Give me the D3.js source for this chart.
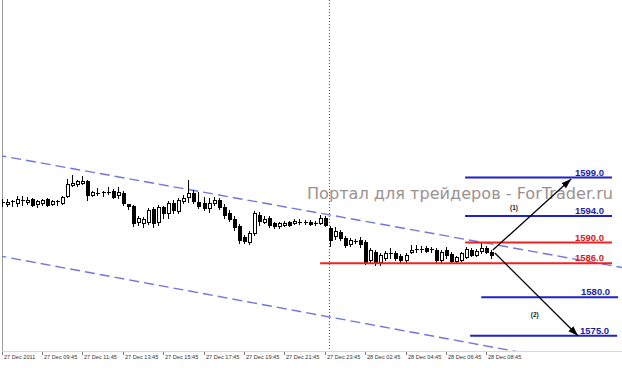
<!DOCTYPE html>
<html>
<head>
<meta charset="utf-8">
<script src="https://cdn.jsdelivr.net/npm/d3@7"></script>
<style>
body{margin:0;background:#fff}
svg{display:block}
</style>
</head>
<body>
<svg id="chart" width="622" height="368"></svg>
<script>
// M15 bars, 27 Dec 2011 07:45 .. 28 Dec 08:45
let open = [1595.82,1595.69,1595.95,1595.69,1596.08,1595.95,1596.21,1595.56,1595.69,1596.21,1595.56,1595.95,1595.69,1596.60,1598.16,1598.16,1598.42,1598.55,1596.73,1596.99,
  1597.12,1597.12,1597.25,1596.73,1596.99,1595.56,1595.30,1593.11,1592.95,1593.11,1594.91,1593.11,1595.17,1594.39,1595.69,1594.65,1595.95,1596.47,1596.99,1595.82,
  1595.69,1595.04,1595.69,1596.08,1595.17,1594.39,1593.56,1592.50,1590.83,1590.08,1591.44,1594.13,1593.11,1593.71,1592.95,1592.50,1592.65,1593.11,1592.95,1593.11,
  1593.11,1593.11,1592.95,1592.95,1593.71,1592.20,1590.98,1591.59,1590.68,1589.71,1590.23,1590.38,1590.08,1586.63,1588.17,1586.25,1587.02,1587.98,1587.98,1587.40,
  1586.63,1588.37,1588.75,1588.75,1588.94,1588.75,1588.56,1586.63,1588.56,1587.79,1586.44,1586.63,1587.21,1588.56,1587.60,1588.37,1588.94,1588.17];
let high = [1596.21,1596.21,1596.08,1596.60,1596.60,1596.47,1596.34,1596.08,1596.21,1596.34,1596.08,1596.08,1596.60,1598.81,1599.32,1598.68,1599.19,1598.68,1597.25,1597.64,
  1597.25,1597.77,1597.51,1597.77,1597.25,1595.58,1595.43,1594.00,1593.86,1595.04,1595.17,1595.43,1595.30,1595.95,1596.08,1596.34,1596.73,1598.68,1597.38,1597.12,
  1596.47,1596.34,1596.47,1596.34,1595.56,1594.78,1594.00,1592.80,1591.14,1591.74,1594.65,1594.52,1594.00,1594.00,1593.11,1593.11,1593.26,1593.26,1593.56,1593.56,
  1593.41,1593.41,1593.26,1594.13,1594.00,1592.50,1592.35,1591.89,1590.98,1590.68,1590.53,1590.83,1590.38,1588.94,1588.56,1587.98,1588.37,1588.94,1588.37,1587.79,
  1587.98,1589.52,1589.52,1589.33,1589.33,1589.13,1588.94,1588.56,1589.13,1588.17,1587.40,1588.17,1589.13,1588.94,1588.75,1589.90,1589.33,1588.56];
let low = [1595.30,1595.30,1595.30,1595.30,1595.43,1595.56,1595.30,1595.17,1595.43,1595.30,1595.43,1595.43,1595.56,1596.47,1597.90,1597.90,1598.16,1596.08,1596.60,1596.73,
  1596.60,1596.86,1596.34,1596.34,1595.43,1594.91,1592.50,1592.65,1592.35,1592.80,1592.35,1592.65,1593.71,1593.71,1594.39,1594.39,1595.69,1595.82,1595.69,1595.04,
  1594.78,1594.52,1595.43,1594.91,1593.71,1593.26,1591.89,1589.90,1589.90,1589.71,1591.14,1592.65,1592.95,1592.35,1592.20,1592.20,1592.50,1592.50,1592.80,1592.80,
  1592.80,1592.65,1592.65,1592.80,1592.50,1589.33,1590.53,1590.38,1589.13,1589.33,1589.90,1589.13,1585.88,1586.25,1585.70,1585.70,1586.63,1587.02,1586.63,1586.25,
  1586.25,1587.98,1588.17,1588.17,1588.17,1588.17,1586.25,1586.25,1587.02,1586.06,1586.25,1586.44,1587.02,1587.40,1587.40,1587.98,1587.98,1587.02];
let close = [1595.76,1595.82,1595.93,1596.21,1596.06,1596.08,1595.43,1595.95,1596.08,1595.43,1595.95,1595.89,1596.47,1598.16,1598.29,1598.55,1598.55,1596.73,1597.12,1596.97,
  1597.10,1597.14,1596.47,1597.12,1595.69,1595.43,1592.95,1593.71,1593.56,1594.78,1592.95,1595.17,1594.39,1595.69,1594.78,1596.08,1596.34,1596.99,1595.95,1595.30,
  1595.04,1595.69,1596.08,1595.17,1594.13,1593.56,1592.35,1590.38,1590.23,1591.44,1594.39,1593.26,1593.56,1592.65,1592.50,1592.95,1592.95,1592.65,1593.26,1593.03,
  1593.03,1592.80,1592.93,1593.71,1592.65,1590.38,1591.74,1590.68,1589.52,1590.38,1590.21,1589.71,1586.25,1588.56,1586.25,1587.60,1587.98,1588.00,1587.02,1586.63,
  1587.60,1588.56,1588.77,1588.73,1588.37,1588.77,1586.63,1588.17,1587.60,1586.44,1587.21,1587.98,1588.75,1587.60,1588.37,1588.94,1588.17,1587.60];

let tickBars = [0, 8, 16, 24, 32, 40, 48, 56, 64, 72, 80, 88, 96];
let tickLabels = ["27 Dec 2011", "27 Dec 09:45", "27 Dec 11:45", "27 Dec 13:45", "27 Dec 15:45", "27 Dec 17:45", "27 Dec 19:45",
  "27 Dec 21:45", "27 Dec 23:45", "28 Dec 02:45", "28 Dec 04:45", "28 Dec 06:45", "28 Dec 08:45"];
let daySeparatorBar = 65;

// trend channel, [bar, price] pairs
let channelUpper = [[-1, 1601.93], [125, 1584.91]];
let channelLower = [[-1, 1587.53], [105, 1572.57]];

// target levels
let levels = [1599.0, 1594.0, 1590.0, 1586.0, 1580.0, 1575.0];
let levelKind = ["up", "up", "res", "res", "down", "down"];
let levelFrom = [91.8, 91.8, 91.8, 63.1, 95.0, 92.8];
let levelTo = [120.9, 120.9, 120.9, 120.9, 122.1, 121.9];

// scenarios (1) and (2)
let arrowFrom = [[97.3, 1588.56], [97.7, 1587.98]];
let arrowTo = [[112.8, 1598.8], [114.15, 1575.0]];
let scenarioNames = ["(1)", "(2)"];
let scenarioAt = [[101.5, 1595.1], [105.6, 1577.7]];

let watermark = "Портал для трейдеров - ForTrader.ru";

const width = 622, height = 368, plotBottom = 351;

let svg = d3.select("#chart");
svg.append("rect").attr("width", width).attr("height", height).attr("fill", "#fff");

let x = d3.scaleLinear().domain([0, 97]).range([1.5, 491.35]);
// price axis of the picture is not uniform, so the scale runs through every level
let y = d3.scaleLinear()
    .domain([1575, 1580, 1586, 1590, 1594, 1599])
    .range([335.7, 297.3, 263.3, 242.5, 216, 177.5]);

let defs = svg.append("defs");
defs.append("clipPath").attr("id", "plotClip")
    .append("rect").attr("x", 2).attr("y", 0).attr("width", width - 2).attr("height", plotBottom);
defs.append("marker")
    .attr("id", "head")
    .attr("viewBox", "0 -4 10 8")
    .attr("refX", 10)
    .attr("markerWidth", 10)
    .attr("markerHeight", 8)
    .attr("orient", "auto")
    .attr("markerUnits", "userSpaceOnUse")
    .append("path")
    .attr("d", "M0,-3.5L10,0L0,3.5Z")
    .attr("fill", "#000");

// frame
svg.append("line").attr("x1", 2.5).attr("x2", 2.5).attr("y1", 0).attr("y2", plotBottom)
    .attr("stroke", "#9a9a9a").attr("stroke-width", 1);
svg.append("line").attr("x1", 2).attr("x2", width).attr("y1", plotBottom + 0.5).attr("y2", plotBottom + 0.5)
    .attr("stroke", "#d8d8d8").attr("stroke-width", 1);

// watermark
svg.append("text")
    .attr("x", 307).attr("y", 199)
    .attr("font-family", "DejaVu Sans, Verdana, sans-serif")
    .attr("font-size", 15.5)
    .attr("textLength", 306)
    .attr("lengthAdjust", "spacingAndGlyphs")
    .attr("fill", "#9c9191")
    .text(watermark);

let plot = svg.append("g").attr("clip-path", "url(#plotClip)");

// day separator
let sx = Math.floor(x(daySeparatorBar)) + 0.5;
plot.append("line").attr("x1", sx).attr("x2", sx).attr("y1", 0).attr("y2", plotBottom)
    .attr("stroke", "#555").attr("stroke-width", 1).attr("stroke-dasharray", "1,2");

// channel
[channelUpper, channelLower].forEach(c => {
    plot.append("line")
        .attr("x1", x(c[0][0])).attr("y1", y(c[0][1]))
        .attr("x2", x(c[1][0])).attr("y2", y(c[1][1]))
        .attr("stroke", "#7474e0").attr("stroke-width", 1.4)
        .attr("stroke-dasharray", "10,5");
});

// candles
let candles = plot.append("g").attr("shape-rendering", "crispEdges");
d3.range(open.length).forEach(i => {
    let r = Math.round(x(i));
    let yo = Math.round(y(open[i])), yc = Math.round(y(close[i]));
    candles.append("line")
        .attr("x1", r + 0.5).attr("x2", r + 0.5)
        .attr("y1", Math.round(y(high[i]))).attr("y2", Math.round(y(low[i])) + 1)
        .attr("stroke", "#000");
    if (yo === yc) {
        candles.append("line")
            .attr("x1", r - 1).attr("x2", r + 3)
            .attr("y1", yo + 0.5).attr("y2", yo + 0.5)
            .attr("stroke", "#000");
    } else {
        candles.append("rect")
            .attr("x", r - 0.5).attr("width", 3)
            .attr("y", Math.min(yo, yc) + 0.5).attr("height", Math.max(2, Math.abs(yo - yc)))
            .attr("fill", close[i] > open[i] ? "#fff" : "#000")
            .attr("stroke", "#000");
    }
});

// levels
let levelColor = {up: "#1f1fd6", res: "#f22222", down: "#1f1fd6"};
let labelColor = {up: "#1c1ca6", res: "#d41c1c", down: "#1c1ca6"};
levels.forEach((v, k) => {
    let ly = y(v);
    svg.append("line")
        .attr("x1", x(levelFrom[k])).attr("x2", x(levelTo[k]))
        .attr("y1", ly).attr("y2", ly)
        .attr("stroke", levelColor[levelKind[k]]).attr("stroke-width", 2);
    svg.append("text")
        .attr("x", x(levelTo[k]) - 8).attr("y", ly - 2)
        .attr("text-anchor", "end")
        .attr("font-family", "Liberation Sans, Arial, sans-serif")
        .attr("font-weight", "bold")
        .attr("font-size", 9.5)
        .attr("fill", labelColor[levelKind[k]])
        .text(d3.format(".1f")(v));
});

// arrows
arrowFrom.forEach((a, k) => {
    svg.append("line")
        .attr("x1", x(a[0])).attr("y1", y(a[1]))
        .attr("x2", x(arrowTo[k][0])).attr("y2", y(arrowTo[k][1]))
        .attr("stroke", "#000").attr("stroke-width", 1.3)
        .attr("marker-end", "url(#head)");
    svg.append("text")
        .attr("x", x(scenarioAt[k][0])).attr("y", y(scenarioAt[k][1]) + 2)
        .attr("text-anchor", "middle")
        .attr("font-family", "Liberation Sans, Arial, sans-serif")
        .attr("font-weight", "bold")
        .attr("font-size", 6.5)
        .attr("fill", "#222")
        .text(scenarioNames[k]);
});

// time axis
let axis = svg.append("g");
tickBars.forEach((b, k) => {
    let tx = Math.round(x(b)) + 0.5;
    axis.append("line").attr("x1", tx).attr("x2", tx)
        .attr("y1", plotBottom + 1).attr("y2", plotBottom + 4)
        .attr("stroke", "#777");
    axis.append("text")
        .attr("x", tx + 1.5).attr("y", 359)
        .attr("font-family", "Liberation Sans, Arial, sans-serif")
        .attr("font-size", 5.6)
        .attr("fill", "#333")
        .text(tickLabels[k]);
});
</script>
</body>
</html>
